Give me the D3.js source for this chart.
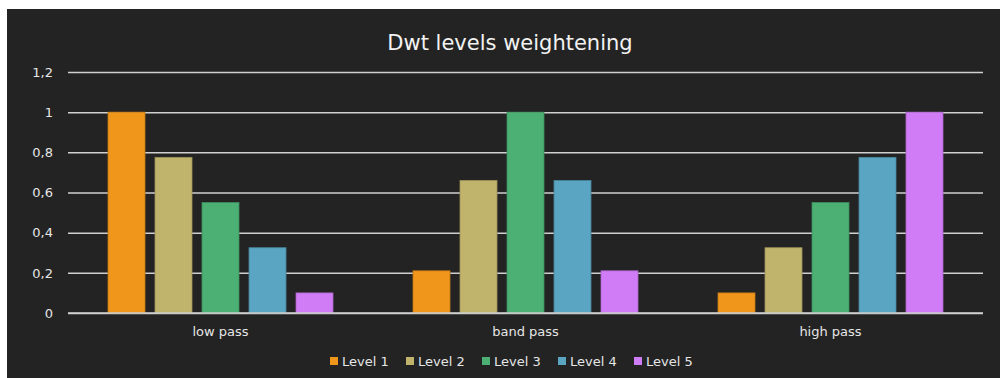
<!DOCTYPE html>
<html>
<head>
<meta charset="utf-8">
<script src="https://cdn.jsdelivr.net/npm/d3@7"></script>
<style>
  html, body { margin: 0; padding: 0; background: #ffffff; }
  svg { display: block; }
  text { font-family: "DejaVu Sans", sans-serif; fill: #e6e6e6; }
</style>
</head>
<body>
<svg id="chart" width="1000" height="378"></svg>
<script>
// Weight of each DWT level in the three filter bands
const categories = ["low pass", "band pass", "high pass"];
const seriesNames = ["Level 1", "Level 2", "Level 3", "Level 4", "Level 5"];
const level1 = [1, 0.21, 0.1];
const level2 = [0.775, 0.66, 0.325];
const level3 = [0.55, 1, 0.55];
const level4 = [0.325, 0.66, 0.775];
const level5 = [0.1, 0.21, 1];
const seriesValues = [level1, level2, level3, level4, level5];
const yTicks = [0, 0.2, 0.4, 0.6, 0.8, 1, 1.2];
const tickLabels = ["0", "0,2", "0,4", "0,6", "0,8", "1", "1,2"];
const colors = ["#F0961A", "#C0B46C", "#4CB074", "#5AA6C2", "#D07CF6"];

const svg = d3.select("#chart");

// dark panel
svg.append("rect").attr("x", 7).attr("y", 9).attr("width", 993).attr("height", 369).attr("fill", "#232323");

const plot = { left: 68, right: 983, top: 72, bottom: 313 };

const x0 = d3.scaleBand().domain(categories).range([plot.left, plot.right]).padding(0);
const x1 = d3.scaleBand().domain(seriesNames).range([40, x0.bandwidth() - 40]).paddingInner(10 / 47).paddingOuter(0);
const y = d3.scaleLinear().domain([0, 1.2]).range([plot.bottom, plot.top]);

// title
svg.append("text")
  .attr("x", 510).attr("y", 50)
  .attr("text-anchor", "middle")
  .style("font-size", "21px")
  .style("fill", "#f2f2f2")
  .text("Dwt levels weightening");

// gridlines
const yAxis = d3.axisLeft(y).tickValues(yTicks)
  .tickFormat((d, i) => tickLabels[i])
  .tickSize(-(plot.right - plot.left)).tickPadding(15);
const gy = svg.append("g").attr("transform", `translate(${plot.left},0)`).call(yAxis);
gy.select(".domain").remove();
gy.selectAll(".tick line").attr("stroke", "#d0d0d0").attr("stroke-width", 1.5);
gy.selectAll(".tick text").style("font-size", "13px").style("fill", "#e6e6e6").attr("font-family", null);

// bars
const groups = svg.append("g").selectAll("g")
  .data(categories)
  .join("g")
  .attr("transform", d => `translate(${x0(d)},0)`);

groups.selectAll("rect")
  .data((c, ci) => seriesNames.map((s, si) => ({ s, v: seriesValues[si][ci], si })))
  .join("rect")
  .attr("x", d => x1(d.s))
  .attr("y", d => y(d.v))
  .attr("width", x1.bandwidth())
  .attr("height", d => y(0) - y(d.v))
  .attr("fill", d => colors[d.si])
  .attr("stroke", d => d3.color(colors[d.si]).darker(0.6))
  .attr("stroke-width", 0.8);

// category labels
const xAxis = d3.axisBottom(x0).tickSize(0).tickPadding(14);
const gx = svg.append("g").attr("transform", `translate(0,${plot.bottom})`).call(xAxis);
gx.select(".domain").remove();
gx.selectAll(".tick text").style("font-size", "13px").style("fill", "#e6e6e6").attr("font-family", null);

// baseline redrawn over bars
svg.append("line")
  .attr("x1", plot.left).attr("x2", plot.right)
  .attr("y1", y(0)).attr("y2", y(0))
  .attr("stroke", "#d0d0d0").attr("stroke-width", 1.5);

// legend
const legend = svg.append("g").selectAll("g")
  .data(seriesNames)
  .join("g")
  .attr("transform", (d, i) => `translate(${330 + i * 76},357)`);
legend.append("rect").attr("width", 8).attr("height", 8).attr("fill", (d, i) => colors[i]);
legend.append("text").attr("x", 12).attr("y", 8.5)
  .style("font-size", "13px").text(d => d);
</script>
</body>
</html>
